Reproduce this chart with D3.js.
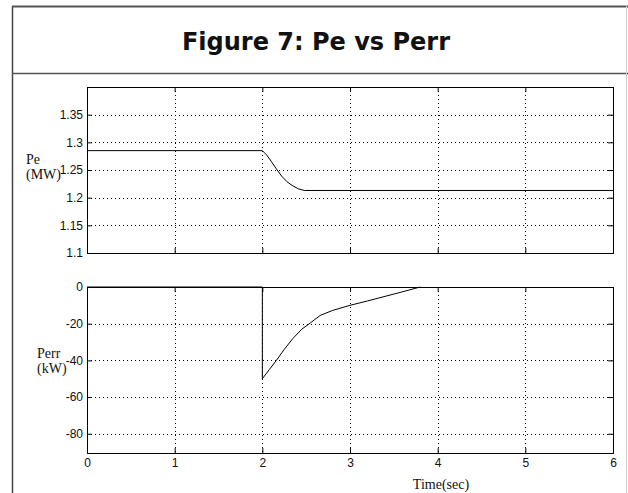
<!DOCTYPE html>
<html><head><meta charset="utf-8">
<script src="https://cdn.jsdelivr.net/npm/d3@7/dist/d3.min.js"></script>
<style>
html,body{margin:0;padding:0;background:#fff;}
svg{display:block;}
</style></head>
<body>
<svg id="chart" width="628" height="493"></svg>
<script>
// ---- data ----
const title = "Figure 7: Pe vs Perr";
const xTicks = [0, 1, 2, 3, 4, 5, 6];
const peTicks = [1.1, 1.15, 1.2, 1.25, 1.3, 1.35];
const perrTicks = [-80, -60, -40, -20, 0];
const peTime = [0, 2, 2.05, 2.1, 2.16, 2.22, 2.28, 2.34, 2.41, 2.48, 6];
const peValues = [1.285, 1.285, 1.277, 1.266, 1.252, 1.239, 1.229, 1.222, 1.216, 1.213, 1.213];
const perrTime = [0, 2, 2, 2.08, 2.16, 2.25, 2.35, 2.45, 2.55, 2.66, 2.8, 3, 3.2, 3.4, 3.6, 3.8];
const perrValues = [0, 0, -50, -45, -40, -34, -28, -23, -19.5, -15.5, -12.8, -10, -7.6, -5.1, -2.6, 0];

const svg = d3.select("#chart");
// frame
svg.append("rect").attr("x", 0).attr("y", 0).attr("width", 628).attr("height", 493).attr("fill", "#fff");
svg.append("line").attr("x1", 12.5).attr("x2", 12.5).attr("y1", 6).attr("y2", 493).attr("stroke", "#444").attr("stroke-width", 1.5);
svg.append("line").attr("x1", 12).attr("x2", 628).attr("y1", 6.5).attr("y2", 6.5).attr("stroke", "#555").attr("stroke-width", 2);
svg.append("line").attr("x1", 12).attr("x2", 628).attr("y1", 73.5).attr("y2", 73.5).attr("stroke", "#555").attr("stroke-width", 1.5);
svg.append("line").attr("x1", 626.5).attr("x2", 626.5).attr("y1", 6).attr("y2", 493).attr("stroke", "#ccc").attr("stroke-width", 1);

svg.append("text").attr("x", 316).attr("y", 50)
  .attr("text-anchor", "middle")
  .attr("font-family", "'DejaVu Sans', Verdana, sans-serif")
  .attr("font-weight", "bold").attr("font-size", 24)
  .attr("fill", "#111").text(title);

const x = d3.scaleLinear().domain([0, 6]).range([87, 613]);
const yPe = d3.scaleLinear().domain([1.1, 1.4]).range([253, 87]);
const yPerr = d3.scaleLinear().domain([-90.5, 0]).range([453, 287]);

function panel(y, yticks, times, values, showXLabels) {
  const g = svg.append("g");
  const [y0, y1] = y.range();
  const [x0, x1] = x.range();
  // grid
  g.selectAll(".vg").data(xTicks.slice(1, -1)).enter().append("line")
    .attr("x1", d => Math.round(x(d)) + 0.5).attr("x2", d => Math.round(x(d)) + 0.5)
    .attr("y1", y1).attr("y2", y0)
    .attr("stroke", "#000").attr("stroke-width", 1).attr("stroke-dasharray", "1,3");
  g.selectAll(".hg").data(yticks.filter(d => Math.abs(y(d) - y0) > 1 && Math.abs(y(d) - y1) > 1)).enter().append("line")
    .attr("y1", d => Math.round(y(d)) + 0.5).attr("y2", d => Math.round(y(d)) + 0.5)
    .attr("x1", x0).attr("x2", x1)
    .attr("stroke", "#000").attr("stroke-width", 1).attr("stroke-dasharray", "1,3");
  // axes with inner ticks
  const fmt = d => String(d);
  const left = d3.axisLeft(y).tickValues(yticks).tickSize(-5).tickPadding(4).tickFormat(fmt);
  const right = d3.axisRight(y).tickValues(yticks).tickSize(-5).tickFormat("");
  const bottom = d3.axisBottom(x).tickValues(xTicks).tickSize(-5).tickPadding(5).tickFormat(showXLabels ? fmt : "");
  const top = d3.axisTop(x).tickValues(xTicks).tickSize(-5).tickFormat("");
  const ax = [
    g.append("g").attr("transform", `translate(${x0},0)`).call(left),
    g.append("g").attr("transform", `translate(${x1},0)`).call(right),
    g.append("g").attr("transform", `translate(0,${y0})`).call(bottom),
    g.append("g").attr("transform", `translate(0,${y1})`).call(top)
  ];
  ax.forEach(a => {
    a.select(".domain").attr("stroke", "#000").attr("stroke-width", 1);
    a.selectAll(".tick line").attr("stroke", "#000");
    a.selectAll("text").attr("font-family", "'Liberation Sans', Arial, sans-serif").attr("font-size", 12).attr("fill", "#111");
  });
  // data line
  const pts = times.map((t, i) => [t, values[i]]);
  g.append("path").datum(pts)
    .attr("d", d3.line().x(d => x(d[0])).y(d => y(d[1])))
    .attr("fill", "none").attr("stroke", "#000").attr("stroke-width", 1);
  return g;
}

panel(yPe, peTicks, peTime, peValues, false);
panel(yPerr, perrTicks, perrTime, perrValues, true);

// axis labels
const serif = "'Liberation Serif', 'Times New Roman', serif";
function label(lines, x0, ys, size) {
  lines.forEach((t, i) => svg.append("text").attr("x", x0).attr("y", ys[i])
    .attr("font-family", serif).attr("font-size", size).attr("fill", "#111").text(t));
}
label(["Pe", "(MW)"], 26, [164, 179], 14);
label(["Perr", "(kW)"], 37, [358, 373], 14);
svg.append("text").attr("x", 441).attr("y", 489).attr("text-anchor", "middle")
  .attr("font-family", serif).attr("font-size", 14).attr("fill", "#111").text("Time(sec)");
</script>
</body></html>
